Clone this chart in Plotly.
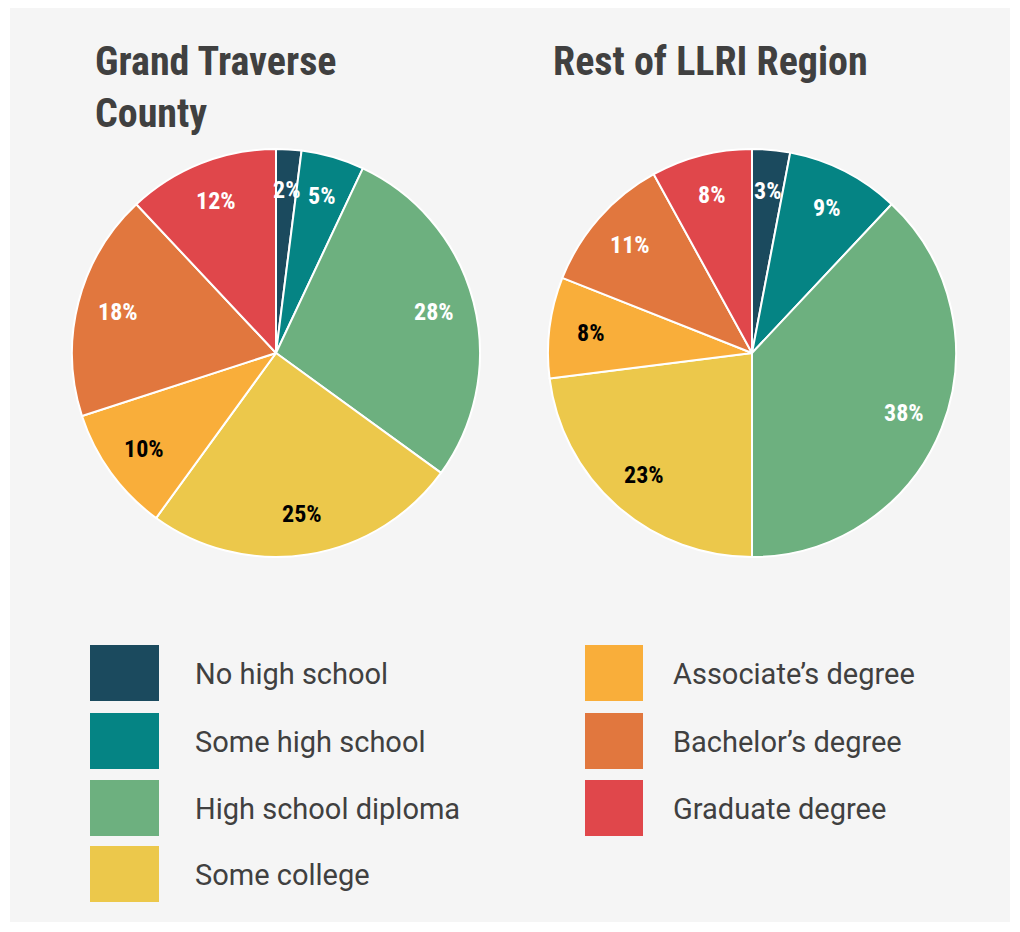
"""
Educational attainment: Grand Traverse County vs rest of LLRI region.
Two pies side by side with a custom two-column legend.
"""

import math
import plotly.graph_objects as go

categories = [
    "No high school",
    "Some high school",
    "High school diploma",
    "Some college",
    "Associate\u2019s degree",
    "Bachelor\u2019s degree",
    "Graduate degree",
]
grand_traverse = [2, 5, 28, 25, 10, 18, 12]
rest_of_llri = [3, 9, 38, 23, 8, 11, 8]

colors = ["#1b4a5e", "#058484", "#6db07f", "#ecc84b", "#f9ae3a", "#e1773e", "#e0474b"]
label_colors = ["white", "white", "white", "black", "black", "white", "white"]

TITLE_FONT = "Roboto Condensed, Liberation Sans Narrow, Arial Narrow, sans-serif"
LABEL_FONT = "Roboto Condensed, Liberation Sans Narrow, Arial Narrow, sans-serif"
LEGEND_FONT = "Roboto, Liberation Sans, sans-serif"

# page body keeps its default 8px margin, so the figure sits at (8, 8)
OFF = 8
W, H = 1020 - 2 * OFF, 932 - 2 * OFF


def px_x(x):
    return (x - OFF) / W


def px_y(y):
    return 1 - (y - OFF) / H


PIE_TOP, PIE_BOTTOM = 149, 557
RADIUS = (PIE_BOTTOM - PIE_TOP) / 2


def make_pie(values, cx):
    return go.Pie(
        labels=categories,
        values=values,
        sort=False,
        direction="clockwise",
        rotation=0,
        marker=dict(colors=colors, line=dict(color="white", width=2)),
        textinfo="none",
        hoverinfo="label+percent",
        showlegend=False,
        domain=dict(x=[px_x(cx - RADIUS), px_x(cx + RADIUS)],
                    y=[px_y(PIE_BOTTOM), px_y(PIE_TOP)]),
    )


def pie_labels(values, cx, cy, frac=0.8):
    # place each percentage at the middle angle of its slice
    out = []
    total = sum(values)
    cum = 0
    for v, col in zip(values, label_colors):
        mid = (cum + v / 2) / total * 2 * math.pi
        cum += v
        x = cx + frac * RADIUS * math.sin(mid)
        y = cy - frac * RADIUS * math.cos(mid)
        out.append(dict(text=f"<b>{v}%</b>", x=px_x(x), y=px_y(y),
                        xref="paper", yref="paper", showarrow=False,
                        xanchor="center", yanchor="middle",
                        font=dict(family=LABEL_FONT, size=24, color=col)))
    return out


LEFT_CX, RIGHT_CX, CY = 276, 752, (PIE_TOP + PIE_BOTTOM) / 2

fig = go.Figure()
fig.add_trace(make_pie(grand_traverse, LEFT_CX))
fig.add_trace(make_pie(rest_of_llri, RIGHT_CX))

shapes = [
    dict(type="rect", xref="paper", yref="paper",
         x0=px_x(10), x1=px_x(1010), y0=px_y(922), y1=px_y(8),
         fillcolor="#f5f5f5", line=dict(width=0), layer="below"),
]
annotations = [
    dict(text="<b>Grand Traverse<br>County</b>", x=px_x(93), y=px_y(36),
         xref="paper", yref="paper", xanchor="left", yanchor="top",
         align="left", showarrow=False,
         font=dict(family=TITLE_FONT, size=40, color="#404040")),
    dict(text="<b>Rest of LLRI Region</b>", x=px_x(551), y=px_y(36),
         xref="paper", yref="paper", xanchor="left", yanchor="top",
         align="left", showarrow=False,
         font=dict(family=TITLE_FONT, size=40, color="#404040")),
]
annotations += pie_labels(grand_traverse, LEFT_CX, CY)
annotations += pie_labels(rest_of_llri, RIGHT_CX, CY)

# legend: first four in the left column, the rest on the right
row_tops = [645, 713, 780, 846]
for i, (name, col) in enumerate(zip(categories, colors)):
    if i < 4:
        sx0, sx1, tx, top = 90, 159, 193, row_tops[i]
    else:
        sx0, sx1, tx, top = 585, 643, 671, row_tops[i - 4]
    shapes.append(dict(type="rect", xref="paper", yref="paper",
                       x0=px_x(sx0), x1=px_x(sx1),
                       y0=px_y(top + 56), y1=px_y(top),
                       fillcolor=col, line=dict(width=0)))
    annotations.append(dict(text=name, x=px_x(tx), y=px_y(top + 29),
                            xref="paper", yref="paper",
                            xanchor="left", yanchor="middle", showarrow=False,
                            font=dict(family=LEGEND_FONT, size=29, color="#404040")))

fig.update_layout(
    width=W,
    height=H,
    margin=dict(l=0, r=0, t=0, b=0),
    paper_bgcolor="white",
    plot_bgcolor="white",
    shapes=shapes,
    annotations=annotations,
)

fig.write_html("out.html")
